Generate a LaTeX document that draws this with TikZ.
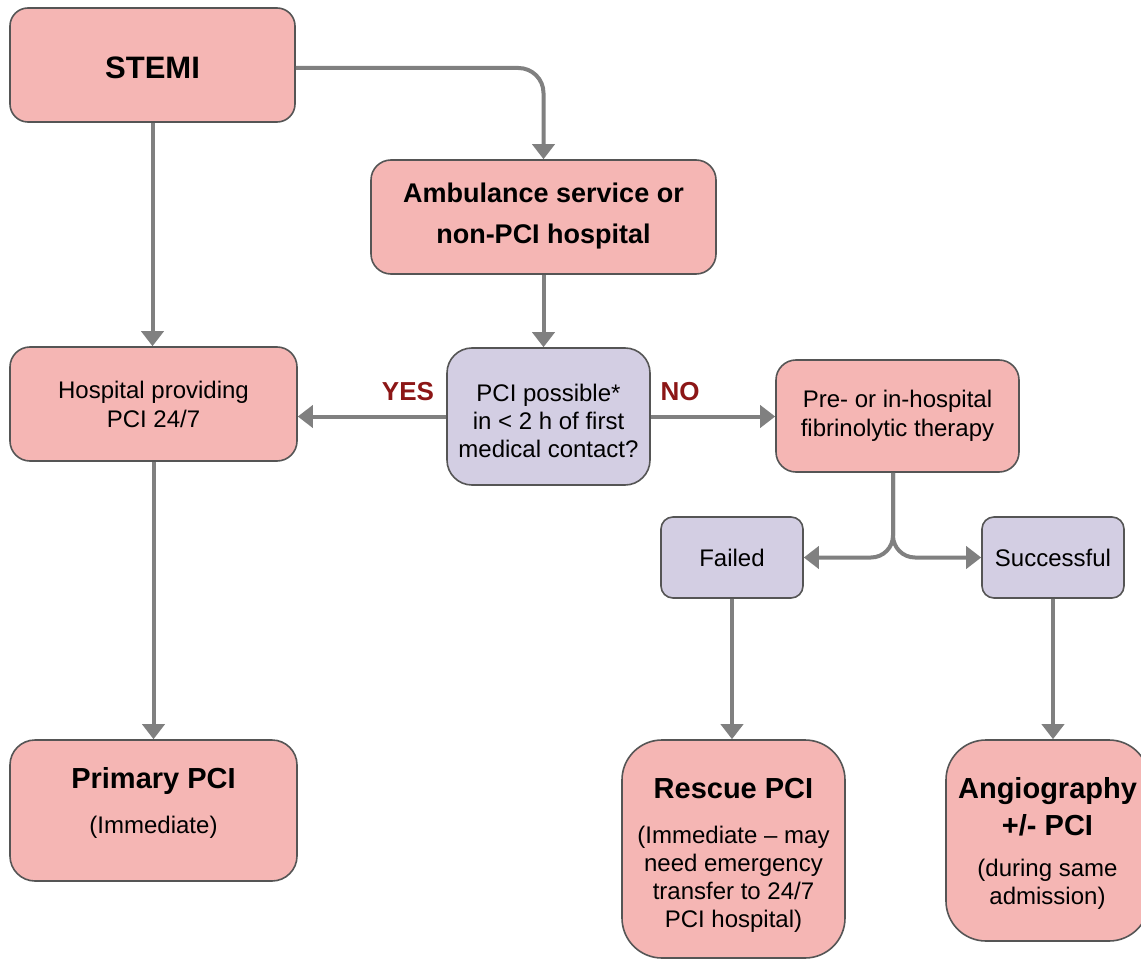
\documentclass[tikz,border=0pt]{standalone}
\usepackage{fontspec}
\setmainfont{Liberation Sans}
\usetikzlibrary{arrows.meta}
\definecolor{pinkfill}{RGB}{245,182,180}
\definecolor{lavfill}{RGB}{211,206,227}
\definecolor{boxborder}{RGB}{85,85,85}
\definecolor{arrowgray}{RGB}{128,128,128}
\definecolor{yesno}{RGB}{140,22,22}
\tikzset{
  basebox/.style={draw=boxborder, line width=1.6pt, inner sep=0pt, align=center,
    font=\fontsize{24}{29}\selectfont},
  pinkbox/.style={basebox, fill=pinkfill},
  lavbox/.style={basebox, fill=lavfill},
  txt/.style={align=center, inner sep=0pt, font=\fontsize{24}{28}\selectfont},
  flow/.style={draw=arrowgray, line width=4pt,
    -{Triangle[width=22pt,length=15pt]}},
  answer/.style={text=yesno, font=\bfseries\fontsize{26}{30}\selectfont, inner sep=0pt}
}
\begin{document}
\begin{tikzpicture}[x=1pt,y=-1pt]
\path[use as bounding box] (0,0) rectangle (1141,960);
\clip (0,0) rectangle (1141,960);
\fill[white] (0,0) rectangle (1141,960);

% boxes
\node[pinkbox, rounded corners=18, minimum width=285, minimum height=114] (stemi) at (152.5,65) {};
\node[txt, font=\bfseries\fontsize{31}{36}\selectfont] (stemiT) at (152.5,68) {STEMI};
\node[pinkbox, rounded corners=20, minimum width=345, minimum height=114] (amb) at (543.5,217) {};
\node[txt, font=\bfseries\fontsize{27}{41}\selectfont] (ambT) at (543.5,216)
  {Ambulance service or\\non-PCI hospital};
\node[pinkbox, rounded corners=20, minimum width=287, minimum height=114] (hosp) at (153.5,404)
  {Hospital providing\\PCI 24/7};
\node[lavbox, rounded corners=25, minimum width=203, minimum height=137] (pci) at (548.5,416.5) {};
\node[txt] (pciT) at (548.5,421) {PCI possible*\\in < 2 h of first\\medical contact?};
\node[pinkbox, rounded corners=20, minimum width=243, minimum height=112] (fib) at (897.5,416)
  {Pre- or in-hospital\\fibrinolytic therapy};
\node[lavbox, rounded corners=12, minimum width=142, minimum height=81] (failed) at (732,557.5) {Failed};
\node[lavbox, rounded corners=12, minimum width=142, minimum height=81] (succ) at (1053,557.5) {Successful};

\node[pinkbox, rounded corners=25, minimum width=287, minimum height=141] (primary) at (153.5,810.5) {};
\node[txt] (primaryT) at (153.5,802.5)
  {{\bfseries\fontsize{29}{34}\selectfont Primary PCI}\\[17pt](Immediate)};
\node[pinkbox, rounded corners=40, minimum width=223, minimum height=218] (rescue) at (733.5,849) {};
\node[txt] (rescueT) at (733.5,855.5)
  {{\bfseries\fontsize{29}{34}\selectfont Rescue PCI}\\[17pt](Immediate -- may\\need emergency\\transfer to 24/7\\PCI hospital)};
\node[pinkbox, rounded corners=40, minimum width=203, minimum height=201] (angio) at (1047.5,840.5) {};
\node[txt] (angioT) at (1047.5,843)
  {{\bfseries\fontsize{29}{34}\selectfont Angiography}\\[9pt]{\bfseries\fontsize{29}{34}\selectfont +/- PCI}\\[13pt](during same\\admission)};

% labels
\node[answer] (yes) at (408,392) {YES};
\node[answer] (no) at (680,392) {NO};

% connectors
\draw[flow, rounded corners=25] ([yshift=-3pt]stemi.east) -| (amb.north);
\draw[flow] (stemi.south) -- (hosp.north -| stemi.south);
\draw[flow] (hosp.south) -- (primary.north -| hosp.south);
\draw[flow] (amb.south) -- (pci.north -| amb.south);
\draw[flow] (pci.west) -- (hosp.east |- pci.west);
\draw[flow] (pci.east) -- (fib.west |- pci.east);
\coordinate (split) at (893,540);
\draw[flow, rounded corners=22] (fib.south -| split) |- (failed.east);
\draw[flow, rounded corners=22] (fib.south -| split) |- (succ.west);
\draw[flow] (failed.south) -- (rescue.north -| failed.south);
\draw[flow] (succ.south) -- (angio.north -| succ.south);
\end{tikzpicture}
\end{document}
